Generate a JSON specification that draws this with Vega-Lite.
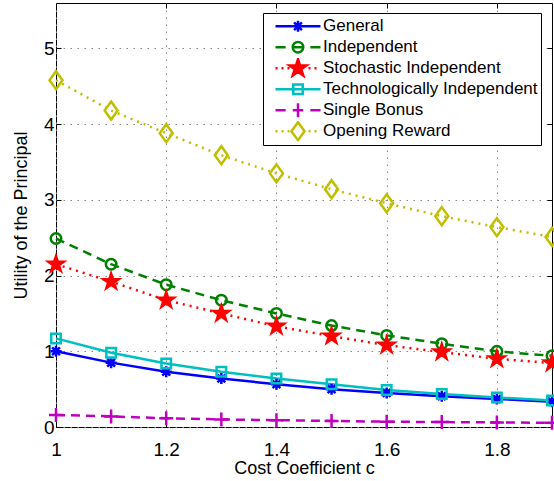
{
  "$schema": "https://vega.github.io/schema/vega-lite/v6.json",
  "width": 496,
  "height": 424,
  "autosize": {"type": "none"},
  "padding": {"left": 56, "top": 3, "right": 2, "bottom": 54},
  "background": "white",
  "config": {
    "font": "Liberation Sans",
    "view": {"stroke": "#000", "strokeWidth": 1},
    "axis": {
      "labelFont": "Liberation Sans", "labelFontSize": 19, "labelColor": "#000",
      "titleFont": "Liberation Sans", "titleFontSize": 18, "titleFontWeight": "normal", "titleColor": "#000",
      "tickColor": "#000", "tickSize": -5, "tickWidth": 1, "domain": false,
      "gridColor": "#888", "gridDash": [1.5, 5.5], "gridWidth": 1, "gridOpacity": 1,
      "labelFlush": false, "labelOverlap": false, "labelBound": false
    },
    "legend": {
      "title": null, "orient": "none", "direction": "vertical",
      "symbolSize": 225, "symbolStrokeWidth": 2.5, "symbolOpacity": 1, "symbolFillColor": "transparent",
      "labelFont": "Liberation Sans", "labelFontSize": 17, "labelColor": "#000", "labelLimit": 400,
      "padding": 3, "rowPadding": 0, "strokeColor": "#000", "fillColor": "#fff", "cornerRadius": 0
    }
  },
  "data": {
    "values": [
      {"c": 1.0, "series": "General", "u": 1.0},
      {"c": 1.1, "series": "General", "u": 0.85},
      {"c": 1.2, "series": "General", "u": 0.73},
      {"c": 1.3, "series": "General", "u": 0.64},
      {"c": 1.4, "series": "General", "u": 0.565},
      {"c": 1.5, "series": "General", "u": 0.5},
      {"c": 1.6, "series": "General", "u": 0.45},
      {"c": 1.7, "series": "General", "u": 0.405},
      {"c": 1.8, "series": "General", "u": 0.37},
      {"c": 1.9, "series": "General", "u": 0.335},
      {"c": 1.0, "series": "Independent", "u": 2.49},
      {"c": 1.1, "series": "Independent", "u": 2.15},
      {"c": 1.2, "series": "Independent", "u": 1.88},
      {"c": 1.3, "series": "Independent", "u": 1.675},
      {"c": 1.4, "series": "Independent", "u": 1.5},
      {"c": 1.5, "series": "Independent", "u": 1.34},
      {"c": 1.6, "series": "Independent", "u": 1.21},
      {"c": 1.7, "series": "Independent", "u": 1.1},
      {"c": 1.8, "series": "Independent", "u": 1.0},
      {"c": 1.9, "series": "Independent", "u": 0.94},
      {"c": 1.0, "series": "Stochastic Independent", "u": 2.15},
      {"c": 1.1, "series": "Stochastic Independent", "u": 1.92},
      {"c": 1.2, "series": "Stochastic Independent", "u": 1.675},
      {"c": 1.3, "series": "Stochastic Independent", "u": 1.5},
      {"c": 1.4, "series": "Stochastic Independent", "u": 1.33},
      {"c": 1.5, "series": "Stochastic Independent", "u": 1.2},
      {"c": 1.6, "series": "Stochastic Independent", "u": 1.08},
      {"c": 1.7, "series": "Stochastic Independent", "u": 0.99},
      {"c": 1.8, "series": "Stochastic Independent", "u": 0.9},
      {"c": 1.9, "series": "Stochastic Independent", "u": 0.845},
      {"c": 1.0, "series": "Technologically Independent", "u": 1.17},
      {"c": 1.1, "series": "Technologically Independent", "u": 0.98},
      {"c": 1.2, "series": "Technologically Independent", "u": 0.84},
      {"c": 1.3, "series": "Technologically Independent", "u": 0.73},
      {"c": 1.4, "series": "Technologically Independent", "u": 0.64},
      {"c": 1.5, "series": "Technologically Independent", "u": 0.565},
      {"c": 1.6, "series": "Technologically Independent", "u": 0.49},
      {"c": 1.7, "series": "Technologically Independent", "u": 0.435},
      {"c": 1.8, "series": "Technologically Independent", "u": 0.39},
      {"c": 1.9, "series": "Technologically Independent", "u": 0.35},
      {"c": 1.0, "series": "Single Bonus", "u": 0.16},
      {"c": 1.1, "series": "Single Bonus", "u": 0.14},
      {"c": 1.2, "series": "Single Bonus", "u": 0.115},
      {"c": 1.3, "series": "Single Bonus", "u": 0.1},
      {"c": 1.4, "series": "Single Bonus", "u": 0.09},
      {"c": 1.5, "series": "Single Bonus", "u": 0.08},
      {"c": 1.6, "series": "Single Bonus", "u": 0.07},
      {"c": 1.7, "series": "Single Bonus", "u": 0.065},
      {"c": 1.8, "series": "Single Bonus", "u": 0.06},
      {"c": 1.9, "series": "Single Bonus", "u": 0.055},
      {"c": 1.0, "series": "Opening Reward", "u": 4.58},
      {"c": 1.1, "series": "Opening Reward", "u": 4.18},
      {"c": 1.2, "series": "Opening Reward", "u": 3.88},
      {"c": 1.3, "series": "Opening Reward", "u": 3.59},
      {"c": 1.4, "series": "Opening Reward", "u": 3.35},
      {"c": 1.5, "series": "Opening Reward", "u": 3.14},
      {"c": 1.6, "series": "Opening Reward", "u": 2.955},
      {"c": 1.7, "series": "Opening Reward", "u": 2.785},
      {"c": 1.8, "series": "Opening Reward", "u": 2.64},
      {"c": 1.9, "series": "Opening Reward", "u": 2.51}
    ]
  },
  "layer": [
    {
      "transform": [{"filter": {"field": "series", "equal": "General"}}],
      "mark": {"type": "line", "strokeWidth": 2.5, "strokeCap": "butt"},
      "encoding": {
        "x": {"field": "c", "type": "quantitative", "scale": {"domain": [1, 1.9], "nice": false, "zero": false},
              "axis": {"orient": "bottom", "values": [1, 1.2, 1.4, 1.6, 1.8], "format": "~g", "labelPadding": 18, "title": "Cost Coefficient c", "titlePadding": 0}},
        "y": {"field": "u", "type": "quantitative", "scale": {"domain": [0, 5.6], "nice": false, "zero": false},
              "axis": {"orient": "left", "values": [0, 1, 2, 3, 4, 5], "format": "d", "labelPadding": 7, "title": "Utility of the Principal", "titlePadding": 13}},
        "stroke": {"field": "series", "type": "nominal",
                   "scale": {"domain": ["General", "Independent", "Stochastic Independent", "Technologically Independent", "Single Bonus", "Opening Reward"],
                             "range": ["#0000ff", "#008000", "#ff0000", "#00bfbf", "#bf00bf", "#bfbf00"]}}
      }
    },
    {
      "transform": [{"filter": {"field": "series", "equal": "Independent"}}],
      "mark": {"type": "line", "strokeWidth": 2.5, "strokeCap": "butt", "strokeDash": [9, 6]},
      "encoding": {
        "x": {"field": "c", "type": "quantitative", "axis": null},
        "y": {"field": "u", "type": "quantitative", "axis": null},
        "stroke": {"field": "series", "type": "nominal"}
      }
    },
    {
      "transform": [{"filter": {"field": "series", "equal": "Stochastic Independent"}}],
      "mark": {"type": "line", "strokeWidth": 2.5, "strokeCap": "butt", "strokeDash": [2, 5]},
      "encoding": {
        "x": {"field": "c", "type": "quantitative", "axis": null},
        "y": {"field": "u", "type": "quantitative", "axis": null},
        "stroke": {"field": "series", "type": "nominal"}
      }
    },
    {
      "transform": [{"filter": {"field": "series", "equal": "Technologically Independent"}}],
      "mark": {"type": "line", "strokeWidth": 2.5, "strokeCap": "butt"},
      "encoding": {
        "x": {"field": "c", "type": "quantitative", "axis": null},
        "y": {"field": "u", "type": "quantitative", "axis": null},
        "stroke": {"field": "series", "type": "nominal"}
      }
    },
    {
      "transform": [{"filter": {"field": "series", "equal": "Single Bonus"}}],
      "mark": {"type": "line", "strokeWidth": 2.5, "strokeCap": "butt", "strokeDash": [9, 6]},
      "encoding": {
        "x": {"field": "c", "type": "quantitative", "axis": null},
        "y": {"field": "u", "type": "quantitative", "axis": null},
        "stroke": {"field": "series", "type": "nominal"}
      }
    },
    {
      "transform": [{"filter": {"field": "series", "equal": "Opening Reward"}}],
      "mark": {"type": "line", "strokeWidth": 2.5, "strokeCap": "butt", "strokeDash": [2, 5]},
      "encoding": {
        "x": {"field": "c", "type": "quantitative", "axis": null},
        "y": {"field": "u", "type": "quantitative", "axis": null},
        "stroke": {"field": "series", "type": "nominal"}
      }
    },
    {
      "transform": [{"filter": {"field": "series", "equal": "General"}}],
      "mark": {"type": "point", "shape": "M-1.1,0L1.1,0M0,-1.1L0,1.1M-0.78,-0.78L0.78,0.78M-0.78,0.78L0.78,-0.78", "size": 100, "strokeWidth": 2.5, "opacity": 1, "filled": false},
      "encoding": {
        "x": {"field": "c", "type": "quantitative", "axis": null},
        "y": {"field": "u", "type": "quantitative", "axis": null},
        "stroke": {"field": "series", "type": "nominal"}
      }
    },
    {
      "transform": [{"filter": {"field": "series", "equal": "Independent"}}],
      "mark": {"type": "point", "shape": "M1.05,0A1.05,1.05,0,1,1,-1.05,0A1.05,1.05,0,1,1,1.05,0Z", "size": 100, "strokeWidth": 2.5, "opacity": 1, "filled": false},
      "encoding": {
        "x": {"field": "c", "type": "quantitative", "axis": null},
        "y": {"field": "u", "type": "quantitative", "axis": null},
        "stroke": {"field": "series", "type": "nominal"}
      }
    },
    {
      "transform": [{"filter": {"field": "series", "equal": "Stochastic Independent"}}],
      "mark": {"type": "point", "shape": "M0,-1.6L0.361,-0.496L1.522,-0.494L0.583,0.189L0.940,1.294L0,0.613L-0.940,1.294L-0.583,0.189L-1.522,-0.494L-0.361,-0.496Z", "size": 100, "strokeWidth": 2.5, "opacity": 1, "filled": false, "fill": "#ff0000"},
      "encoding": {
        "x": {"field": "c", "type": "quantitative", "axis": null},
        "y": {"field": "u", "type": "quantitative", "axis": null},
        "stroke": {"field": "series", "type": "nominal"}
      }
    },
    {
      "transform": [{"filter": {"field": "series", "equal": "Technologically Independent"}}],
      "mark": {"type": "point", "shape": "M-0.95,-0.95L0.95,-0.95L0.95,0.95L-0.95,0.95Z", "size": 100, "strokeWidth": 2.5, "opacity": 1, "filled": false},
      "encoding": {
        "x": {"field": "c", "type": "quantitative", "axis": null},
        "y": {"field": "u", "type": "quantitative", "axis": null},
        "stroke": {"field": "series", "type": "nominal"}
      }
    },
    {
      "transform": [{"filter": {"field": "series", "equal": "Single Bonus"}}],
      "mark": {"type": "point", "shape": "M-1.4,0L1.4,0M0,-1.4L0,1.4", "size": 100, "strokeWidth": 2.5, "opacity": 1, "filled": false},
      "encoding": {
        "x": {"field": "c", "type": "quantitative", "axis": null},
        "y": {"field": "u", "type": "quantitative", "axis": null},
        "stroke": {"field": "series", "type": "nominal"}
      }
    },
    {
      "transform": [{"filter": {"field": "series", "equal": "Opening Reward"}}],
      "mark": {"type": "point", "shape": "M0,-1.8L1.3,0L0,1.8L-1.3,0Z", "size": 100, "strokeWidth": 2.5, "opacity": 1, "filled": false},
      "encoding": {
        "x": {"field": "c", "type": "quantitative", "axis": null},
        "y": {"field": "u", "type": "quantitative", "axis": null},
        "stroke": {"field": "series", "type": "nominal"}
      }
    },
    {
      "transform": [{"filter": "false"}],
      "mark": {"type": "point", "opacity": 1},
      "encoding": {
        "x": {"field": "c", "type": "quantitative", "axis": {"orient": "top", "labels": false, "grid": false, "title": null, "values": [1, 1.2, 1.4, 1.6, 1.8]}},
        "y": {"field": "u", "type": "quantitative", "axis": {"orient": "right", "labels": false, "grid": false, "title": null, "values": [0, 1, 2, 3, 4, 5]}},
        "stroke": {"field": "series", "type": "nominal",
                   "legend": {"legendX": 207, "legendY": 10, "symbolOffset": 8, "labelOffset": 31, "clipHeight": 20.4}},
        "fill": {"field": "series", "type": "nominal",
                 "scale": {"domain": ["General", "Independent", "Stochastic Independent", "Technologically Independent", "Single Bonus", "Opening Reward"],
                           "range": ["transparent", "transparent", "#ff0000", "transparent", "transparent", "transparent"]},
                 "legend": {"legendX": 207, "legendY": 10, "symbolOffset": 8, "labelOffset": 31, "clipHeight": 20.4}},
        "shape": {"field": "series", "type": "nominal",
                  "scale": {"domain": ["General", "Independent", "Stochastic Independent", "Technologically Independent", "Single Bonus", "Opening Reward"],
                            "range": [
                              "M-1,0L5,0M1.27,0L2.73,0M2,-0.73L2,0.73M1.48,-0.52L2.52,0.52M1.48,0.52L2.52,-0.52",
                              "M-1,0L0.35,0M1.3,0L2.7,0M3.65,0L5,0M2.7,0A0.7,0.7,0,1,1,1.3,0A0.7,0.7,0,1,1,2.7,0Z",
                              "M-1,0L-0.73,0M-0.2,0L0.07,0M0.6,0L0.87,0M3.4,0L3.67,0M4.2,0L4.47,0M2,-1.2L2.271,-0.372L3.141,-0.371L2.437,0.142L2.705,0.971L2,0.46L1.295,0.971L1.563,0.142L0.859,-0.371L1.729,-0.372Z",
                              "M-1,0L5,0M1.37,-0.63L2.63,-0.63L2.63,0.63L1.37,0.63Z",
                              "M-1,0L0.35,0M1.3,0L2.7,0M3.65,0L5,0M2,-0.93L2,0.93",
                              "M-1,0L-0.73,0M-0.2,0L0.07,0M0.6,0L0.87,0M3.4,0L3.67,0M4.2,0L4.47,0M2,-1.2L2.87,0L2,1.2L1.13,0Z"
                            ]},
                  "legend": {"legendX": 207, "legendY": 10, "symbolOffset": 8, "labelOffset": 31, "clipHeight": 20.4}}
      }
    }
  ],
  "resolve": {"axis": {"x": "independent", "y": "independent"}}
}
